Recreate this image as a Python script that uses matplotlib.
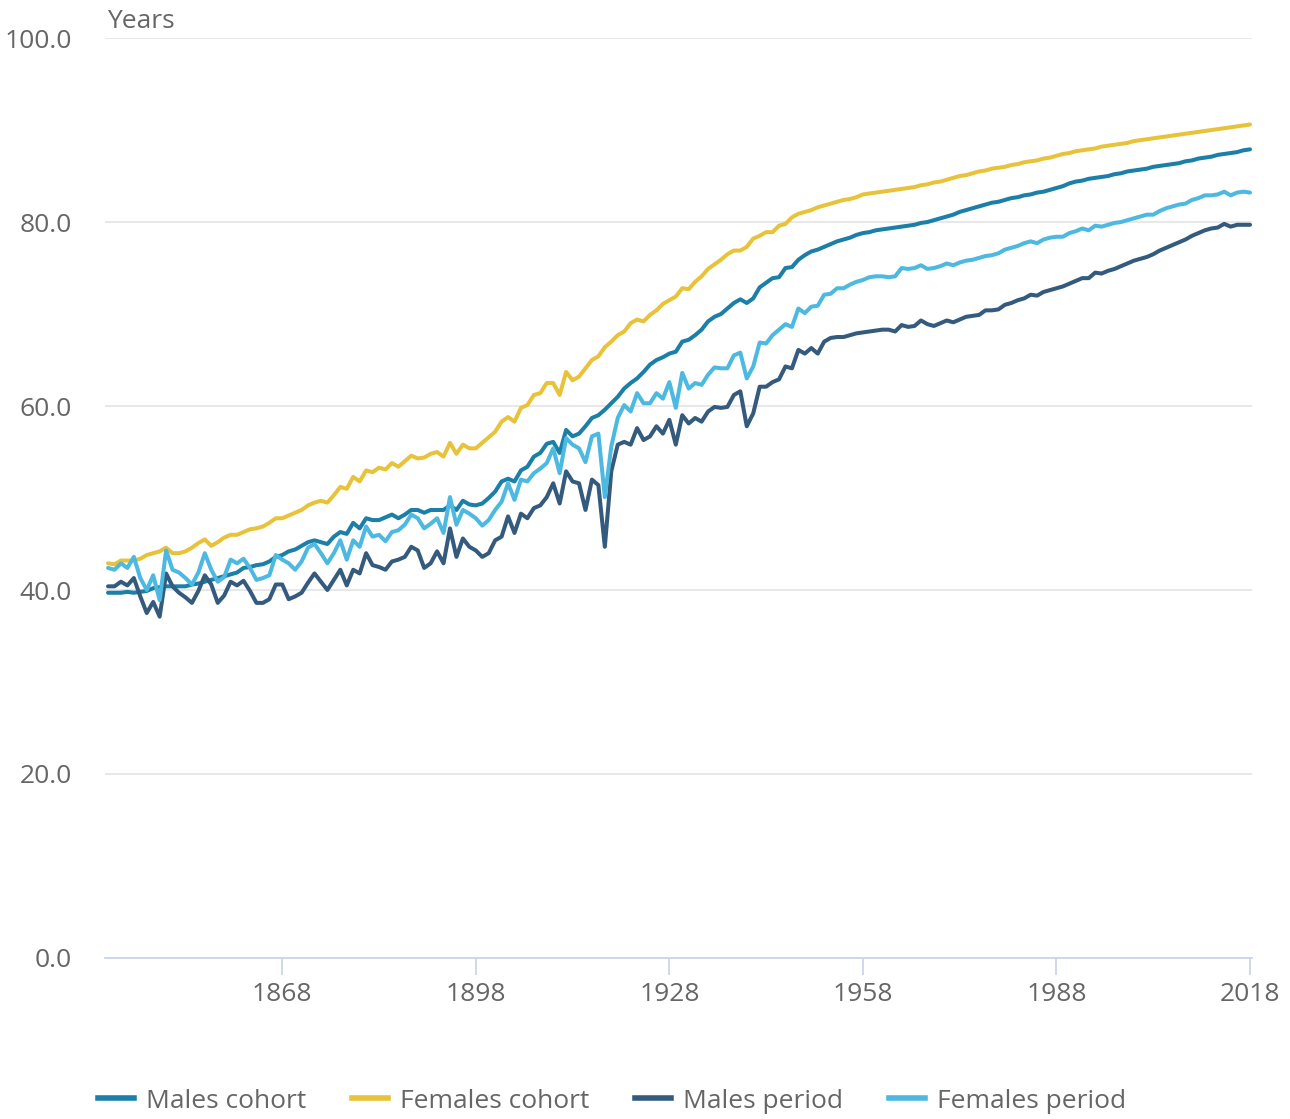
import numpy as np
import matplotlib
matplotlib.use("Agg")
import matplotlib.pyplot as plt
from matplotlib.lines import Line2D

plt.rcParams["font.family"] = ["Open Sans", "DejaVu Sans"]

years = list(range(1841, 2019))

males_cohort = [
    # 1841-1873
    39.7, 39.7, 39.7, 39.8, 39.7, 39.8, 39.9, 40.2, 40.3, 40.4,
    40.4, 40.4, 40.4, 40.6, 40.7, 40.9, 41.1, 41.3, 41.5, 41.7,
    41.9, 42.4, 42.5, 42.7, 42.8, 43.1, 43.6, 43.8, 44.2, 44.4,
    44.8, 45.2, 45.4,
    # 1874-1901
    45.2, 45.0, 45.8, 46.3, 46.1, 47.3, 46.7, 47.8, 47.6, 47.6,
    47.9, 48.2, 47.8, 48.2, 48.7, 48.7, 48.4, 48.7, 48.7, 48.7,
    49.2, 48.7, 49.7, 49.3, 49.2, 49.4, 50.0, 50.7,
    # 1902-1933
    51.8, 52.1, 51.8, 53.0, 53.4, 54.5, 54.9, 55.9, 56.1, 54.9,
    57.4, 56.7, 57.0, 57.8, 58.7, 59.0, 59.6, 60.3, 61.0, 61.9,
    62.5, 63.0, 63.7, 64.5, 65.0, 65.3, 65.7, 65.9, 67.0, 67.2,
    67.7, 68.3,
    # 1934-1963
    69.2, 69.7, 70.0, 70.6, 71.2, 71.6, 71.2, 71.7, 72.9, 73.4,
    73.9, 74.0, 75.0, 75.1, 75.9, 76.4, 76.8, 77.0, 77.3, 77.6,
    77.9, 78.1, 78.3, 78.6, 78.8, 78.9, 79.1, 79.2, 79.3, 79.4,
    # 1964-2018
    79.5, 79.6, 79.7, 79.9, 80.0, 80.2, 80.4, 80.6, 80.8, 81.1,
    81.3, 81.5, 81.7, 81.9, 82.1, 82.2, 82.4, 82.6, 82.7, 82.9,
    83.0, 83.2, 83.3, 83.5, 83.7, 83.9, 84.2, 84.4, 84.5, 84.7,
    84.8, 84.9, 85.0, 85.2, 85.3, 85.5, 85.6, 85.7, 85.8, 86.0,
    86.1, 86.2, 86.3, 86.4, 86.6, 86.7, 86.9, 87.0, 87.1, 87.3,
    87.4, 87.5, 87.6, 87.8, 87.9,
]

females_cohort = [
    # 1841-1873
    42.9, 42.8, 43.2, 43.2, 43.2, 43.4, 43.8, 44.0, 44.2, 44.6,
    44.0, 44.0, 44.2, 44.6, 45.1, 45.5, 44.8, 45.2, 45.7, 46.0,
    46.0, 46.3, 46.6, 46.7, 46.9, 47.3, 47.8, 47.8, 48.1, 48.4,
    48.7, 49.2, 49.5,
    # 1874-1901
    49.7, 49.5, 50.3, 51.2, 51.0, 52.3, 51.8, 53.0, 52.8, 53.3,
    53.1, 53.8, 53.4, 54.0, 54.6, 54.3, 54.4, 54.8, 55.0, 54.5,
    56.0, 54.8, 55.8, 55.4, 55.4, 56.0, 56.6, 57.2,
    # 1902-1928
    58.3, 58.8, 58.3, 59.8, 60.1, 61.2, 61.4, 62.5, 62.5, 61.2,
    63.7, 62.8, 63.2, 64.1, 65.0, 65.4, 66.4, 67.0, 67.7, 68.1,
    69.0, 69.4, 69.2, 69.9, 70.4, 71.1, 71.5,
    # 1929-1963
    71.9, 72.8, 72.7, 73.5, 74.1, 74.9, 75.4, 75.9, 76.5, 76.9,
    76.9, 77.3, 78.2, 78.5, 78.9, 78.9, 79.6, 79.8, 80.5, 80.9,
    81.1, 81.3, 81.6, 81.8, 82.0, 82.2, 82.4, 82.5, 82.7, 83.0,
    83.1, 83.2, 83.3, 83.4, 83.5,
    # 1964-2018
    83.6, 83.7, 83.8, 84.0, 84.1, 84.3, 84.4, 84.6, 84.8, 85.0,
    85.1, 85.3, 85.5, 85.6, 85.8, 85.9, 86.0, 86.2, 86.3, 86.5,
    86.6, 86.7, 86.9, 87.0, 87.2, 87.4, 87.5, 87.7, 87.8, 87.9,
    88.0, 88.2, 88.3, 88.4, 88.5, 88.6, 88.8, 88.9, 89.0, 89.1,
    89.2, 89.3, 89.4, 89.5, 89.6, 89.7, 89.8, 89.9, 90.0, 90.1,
    90.2, 90.3, 90.4, 90.5, 90.6,
]

males_period = [
    # 1841-1873
    40.4, 40.4, 40.9, 40.5, 41.3, 39.3, 37.5, 38.7, 37.1, 41.8,
    40.4, 39.7, 39.2, 38.6, 39.9, 41.6, 40.6, 38.6, 39.4, 40.9,
    40.5, 41.0, 39.9, 38.6, 38.6, 39.0, 40.6, 40.6, 39.0, 39.3,
    39.7, 40.8, 41.8,
    # 1874-1901
    40.9, 40.0, 41.1, 42.2, 40.5, 42.2, 41.8, 44.0, 42.7, 42.5,
    42.2, 43.1, 43.3, 43.6, 44.7, 44.3, 42.4, 42.9, 44.2, 42.9,
    46.7, 43.6, 45.6, 44.7, 44.3, 43.6, 44.0, 45.4,
    # 1902-1933
    45.8, 48.0, 46.2, 48.3, 47.8, 48.9, 49.2, 50.1, 51.6, 49.4,
    52.9, 51.8, 51.6, 48.7, 52.0, 51.4, 44.7, 52.9, 55.8, 56.1,
    55.8, 57.6, 56.3, 56.7, 57.8, 57.0, 58.5, 55.8, 59.0, 58.1,
    58.7, 58.3,
    # 1934-1963
    59.4, 59.9, 59.8, 59.9, 61.2, 61.6, 57.8, 59.2, 62.1, 62.1,
    62.6, 62.9, 64.3, 64.1, 66.1, 65.7, 66.3, 65.7, 67.0, 67.4,
    67.5, 67.5, 67.7, 67.9, 68.0, 68.1, 68.2, 68.3, 68.3, 68.1,
    # 1964-2018
    68.8, 68.6, 68.7, 69.3, 68.9, 68.7, 69.0, 69.3, 69.1, 69.4,
    69.7, 69.8, 69.9, 70.4, 70.4, 70.5, 71.0, 71.2, 71.5, 71.7,
    72.1, 72.0, 72.4, 72.6, 72.8, 73.0, 73.3, 73.6, 73.9, 73.9,
    74.5, 74.4, 74.7, 74.9, 75.2, 75.5, 75.8, 76.0, 76.2, 76.5,
    76.9, 77.2, 77.5, 77.8, 78.1, 78.5, 78.8, 79.1, 79.3, 79.4,
    79.8, 79.5, 79.7, 79.7, 79.7,
]

females_period = [
    # 1841-1873
    42.4, 42.2, 42.9, 42.4, 43.6, 41.3, 40.0, 41.6, 38.9, 44.3,
    42.2, 41.9, 41.3, 40.6, 41.9, 44.0, 42.2, 40.9, 41.4, 43.3,
    42.9, 43.4, 42.4, 41.1, 41.3, 41.6, 43.8, 43.3, 42.9, 42.2,
    43.1, 44.6, 45.0,
    # 1874-1901
    44.0, 42.9, 44.0, 45.4, 43.3, 45.4, 44.7, 46.9, 45.8, 46.0,
    45.3, 46.3, 46.5, 47.1, 48.2, 47.8, 46.7, 47.2, 47.8, 46.2,
    50.1, 47.1, 48.7, 48.3, 47.8, 47.0, 47.6, 48.7,
    # 1902-1933
    49.6, 51.6, 49.8, 52.0, 51.8, 52.7, 53.2, 53.8, 55.4, 52.7,
    56.5, 55.8, 55.4, 53.9, 56.7, 57.0, 50.1, 55.6, 58.7, 60.1,
    59.4, 61.4, 60.3, 60.3, 61.4, 60.8, 62.6, 59.8, 63.6, 61.9,
    62.5, 62.3,
    # 1934-1963
    63.4, 64.2, 64.1, 64.1, 65.5, 65.8, 63.0, 64.3, 66.9, 66.8,
    67.7, 68.3, 68.9, 68.6, 70.6, 70.1, 70.8, 70.9, 72.1, 72.2,
    72.8, 72.8, 73.2, 73.5, 73.7, 74.0, 74.1, 74.1, 74.0, 74.1,
    # 1964-2018
    75.0, 74.9, 75.0, 75.3, 74.9, 75.0, 75.2, 75.5, 75.3, 75.6,
    75.8, 75.9, 76.1, 76.3, 76.4, 76.6, 77.0, 77.2, 77.4, 77.7,
    77.9, 77.7, 78.1, 78.3, 78.4, 78.4, 78.8, 79.0, 79.3, 79.1,
    79.6, 79.5, 79.7, 79.9, 80.0, 80.2, 80.4, 80.6, 80.8, 80.8,
    81.2, 81.5, 81.7, 81.9, 82.0, 82.4, 82.6, 82.9, 82.9, 83.0,
    83.3, 82.9, 83.2, 83.3, 83.2,
]

series_names = ["Males cohort", "Females cohort", "Males period", "Females period"]
series_colors = ["#1b7fa8", "#e8c33a", "#345b7e", "#4db9e1"]
x_ticks = [1868, 1898, 1928, 1958, 1988, 2018]
y_ticks = [0, 20, 40, 60, 80, 100]

fig = plt.figure(figsize=(12.9, 11.19), dpi=100)
ax = fig.add_axes([0.0814, 0.1439, 0.8891, 0.8221])

# cohort lines first, period lines on top
draw = [(males_cohort, 0), (females_cohort, 1), (males_period, 2), (females_period, 3)]
for vals, i in draw:
    ax.plot(years, vals, color=series_colors[i], lw=2.9, solid_joinstyle="round",
            solid_capstyle="round", zorder=3)

ax.set_xlim(1840.53, 2018.3)
ax.set_ylim(0, 100)
ax.set_yticks(y_ticks)
ax.set_yticklabels([f"{v:.1f}" for v in y_ticks])
ax.set_xticks(x_ticks)
ax.set_xticklabels([str(v) for v in x_ticks])

ax.grid(axis="y", color="#e6e6e6", lw=1.3, zorder=0)
for s in ["top", "right", "left"]:
    ax.spines[s].set_visible(False)
ax.spines["bottom"].set_color("#ccd6eb")
ax.spines["bottom"].set_linewidth(1.3)
ax.spines["bottom"].set_zorder(2)

ax.tick_params(axis="y", length=0, pad=24, labelsize=19, labelcolor="#666666")
ax.tick_params(axis="x", length=12, width=1.3, color="#ccd6eb", pad=5,
               labelsize=19, labelcolor="#666666")

fig.text(107 / 1290, 1 - 21 / 1119, "Years", fontsize=19, color="#666666",
         ha="left", va="center")

handles = [Line2D([0], [0], color=c, lw=4) for c in series_colors]
fig.legend(handles, series_names, loc="center", bbox_to_anchor=(612 / 1290, 1 - 1101 / 1119),
           ncol=4, frameon=False, fontsize=19, labelcolor="#666666",
           handlelength=1.35, handletextpad=0.45, columnspacing=1.75)

fig.savefig("out.png", dpi=100)
